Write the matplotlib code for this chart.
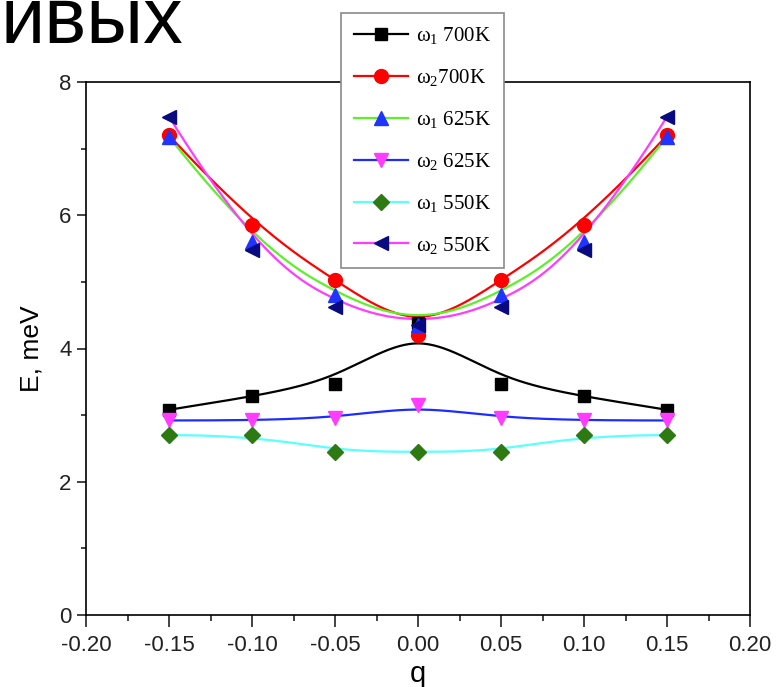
import numpy as np
import matplotlib
matplotlib.use("Agg")
import matplotlib.pyplot as plt
from matplotlib.lines import Line2D
from matplotlib.ticker import MultipleLocator, FormatStrFormatter

# Dispersion data: phonon energies E (meV) versus wave vector q
q = [-0.15, -0.10, -0.05, 0.00, 0.05, 0.10, 0.15]
w1_700 = [3.08, 3.28, 3.47, 4.38, 3.47, 3.28, 3.08]
w2_700 = [7.20, 5.85, 5.03, 4.20, 5.03, 5.85, 7.20]
w1_625 = [7.18, 5.60, 4.80, 4.35, 4.80, 5.60, 7.18]
w2_625 = [2.92, 2.92, 2.95, 3.15, 2.95, 2.92, 2.92]
w1_550 = [2.70, 2.70, 2.45, 2.45, 2.45, 2.70, 2.70]
w2_550 = [7.48, 5.48, 4.63, 4.35, 4.63, 5.48, 7.48]
series_labels = [r"ω$_{1}$ 700K", r"ω$_{2}$700K", r"ω$_{1}$ 625K",
                 r"ω$_{2}$ 625K", r"ω$_{1}$ 550K", r"ω$_{2}$ 550K"]

plt.rcParams["axes.unicode_minus"] = False
plt.rcParams["mathtext.fontset"] = "custom"
plt.rcParams["mathtext.rm"] = "Liberation Serif"
plt.rcParams["mathtext.it"] = "Liberation Serif"


def bspline(xs, ys, n=300, k=3):
    """Clamped uniform cubic B-spline using the points as control polygon."""
    P = np.column_stack([xs, ys]).astype(float)
    m = len(P)
    knots = np.concatenate([np.zeros(k), np.arange(m - k + 1), np.full(k, m - k)]).astype(float)
    t = np.linspace(0, m - k, n)
    N = np.zeros((len(knots) - 1, n))
    for i in range(len(knots) - 1):
        N[i] = (knots[i] <= t) & (t < knots[i + 1])
    last = np.where(knots[:-1] < knots[1:])[0][-1]
    N[last, t == knots[-1]] = 1.0
    for p in range(1, k + 1):
        Nn = np.zeros((len(knots) - 1 - p, n))
        for i in range(len(knots) - 1 - p):
            a = knots[i + p] - knots[i]
            b = knots[i + p + 1] - knots[i + 1]
            term = np.zeros(n)
            if a > 0:
                term += (t - knots[i]) / a * N[i]
            if b > 0:
                term += (knots[i + p + 1] - t) / b * N[i + 1]
            Nn[i] = term
        N = Nn
    curve = N.T @ P
    return curve[:, 0], curve[:, 1]


W, H = 779, 687
fig = plt.figure(figsize=(W / 100, H / 100), dpi=100)
ax = fig.add_axes([86 / W, 1 - 615 / H, (750 - 86) / W, (615 - 82) / H])

styles = [
    (w1_700, "#000000", "s", "#000000", 9),
    (w2_700, "#ff0000", "o", "#ff0000", 10),
    (w1_625, "#5cf02a", "^", "#1f35ff", 10),
    (w2_625, "#1f2cff", "v", "#ff3cff", 10),
    (w1_550, "#5cffff", "D", "#2e7a12", 8),
    (w2_550, "#ff3cff", "<", "#0a0a80", 10),
]

handles = []
for (vals, lc, mk, mc, ms), lab in zip(styles, series_labels):
    cx, cy = bspline(q, vals)
    ax.plot(cx, cy, color=lc, lw=1.6, zorder=2)
    ax.plot(q, vals, ls="none", marker=mk, ms=ms, mfc=mc, mec=mc, zorder=3)
    handles.append(Line2D([], [], color=lc, lw=1.6, marker=mk, ms=ms,
                          mfc=mc, mec=mc, label=lab))

ax.set_xlim(-0.20, 0.20)
ax.set_ylim(0, 8)
ax.xaxis.set_major_locator(MultipleLocator(0.05))
ax.xaxis.set_minor_locator(MultipleLocator(0.025))
ax.yaxis.set_major_locator(MultipleLocator(2))
ax.yaxis.set_minor_locator(MultipleLocator(1))
ax.xaxis.set_major_formatter(FormatStrFormatter("%.2f"))
ax.yaxis.set_major_formatter(FormatStrFormatter("%d"))
for s in ax.spines.values():
    s.set_linewidth(1.2)
ax.tick_params(which="both", direction="out", width=1.2,
               labelsize=16, colors="#222222")
ax.tick_params(axis="x", which="major", length=8.5, pad=6)
ax.tick_params(axis="x", which="minor", length=4.5)
ax.tick_params(axis="y", which="major", length=6.5, pad=4)
ax.tick_params(axis="y", which="minor", length=3.5)
for lbl in ax.get_xticklabels() + ax.get_yticklabels():
    lbl.set_family("Liberation Sans")

ax.set_xlabel("q", fontsize=21, family="Liberation Sans", labelpad=3)
ax.set_ylabel("E, meV", fontsize=19, family="Liberation Sans", labelpad=11)

leg = fig.legend(handles=handles, loc="upper left",
                 bbox_to_anchor=(341 / W, 1 - 13 / H), borderaxespad=0,
                 prop={"family": "Liberation Serif", "size": 15},
                 handlelength=2.6, handletextpad=0.4, labelspacing=1.0,
                 borderpad=0.6, frameon=True, fancybox=False,
                 framealpha=1, edgecolor="#8a8a8a")
leg.get_frame().set_linewidth(1.2)

fig.text(1 / W, 1 - 43 / H, "ивых", fontsize=57, family="Liberation Sans",
         ha="left", va="baseline")

fig.savefig("out.png", dpi=100)
